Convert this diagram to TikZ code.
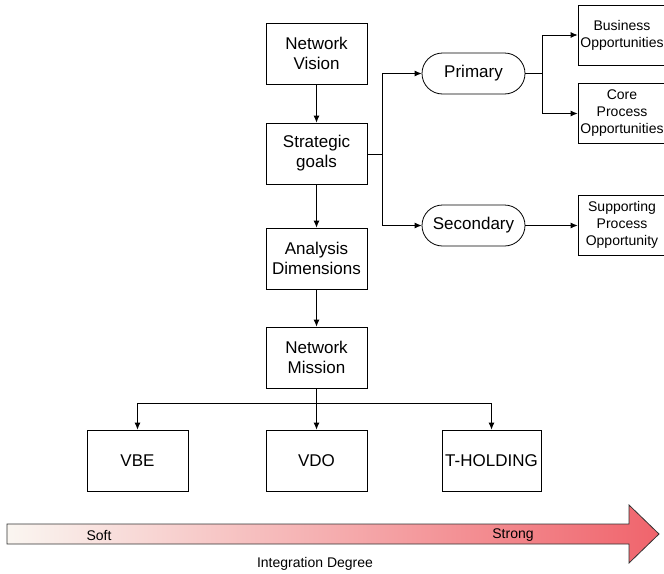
\documentclass[tikz,border=0pt]{standalone}
\usepackage{fontspec}
\setmainfont{Liberation Sans}
\usetikzlibrary{arrows.meta,shapes.misc}
\definecolor{softc}{RGB}{250,246,241}
\definecolor{strongc}{RGB}{240,100,108}
\begin{document}
\begin{tikzpicture}[x=1pt,y=-1pt,
  mainbox/.style={draw,line width=0.8pt,minimum width=101pt,minimum height=61pt,align=center,inner sep=1pt,font=\fontsize{17}{20}\selectfont},
  sidebox/.style={draw,line width=0.8pt,minimum width=88pt,minimum height=60pt,align=center,inner sep=0pt,font=\fontsize{14}{17}\selectfont},
  pill/.style={draw,line width=0.8pt,rounded rectangle,minimum width=105pt,minimum height=41pt,inner sep=1pt,font=\fontsize{17}{20}\selectfont},
  conn/.style={line width=0.8pt},
  arr/.style={line width=0.8pt,-{Latex[length=7pt,width=6pt]}},
  lbl/.style={font=\fontsize{14}{17}\selectfont,inner sep=0pt}]
\useasboundingbox (0,0) rectangle (664,573);
\node[mainbox] (nv) at (316.5,53.5) {Network\\Vision};
\node[mainbox] (sg) at (316.5,153.5) {Strategic\\goals};
\node[mainbox] (ad) at (316.5,258.5) {Analysis\\Dimensions};
\node[mainbox] (nm) at (316.5,357.5) {Network\\Mission};
\node[mainbox] (vbe) at (137.5,460.5) {VBE};
\node[mainbox] (vdo) at (316.5,460.5) {VDO};
\node[mainbox,minimum width=99pt] (th) at (491.5,460.5) {T-HOLDING};
\node[pill] (pri) at (473.5,73.5) {Primary};
\node[pill] (sec) at (473.5,225.5) {Secondary};
\node[sidebox] (bo) at (622,35) {Business\\Opportunities};
\node[sidebox] (cpo) at (622,113.5) {Core\\Process\\Opportunities};
\node[sidebox] (spo) at (622,225) {Supporting\\Process\\Opportunity};
\coordinate (j1) at (382,154);
\coordinate (j2) at (542,73.5);
\coordinate (j3) at (316.5,403);
\draw[arr] (nv) -- (sg);
\draw[arr] (sg) -- (ad);
\draw[arr] (ad) -- (nm);
\draw[conn] (nm.south) -- (j3);
\draw[arr] (j3) -| (vbe.north);
\draw[arr] (j3) -- (vdo.north);
\draw[arr] (j3) -| (th.north);
\draw[conn] (sg.east |- j1) -- (j1);
\draw[arr] (j1) |- (pri.west);
\draw[arr] (j1) |- (sec.west);
\draw[conn] (pri.east) -- (j2);
\draw[arr] (j2) |- (bo.west);
\draw[arr] (j2) |- (cpo.west);
\draw[arr] (sec.east) -- (spo.west |- sec.east);
\path[draw=black!80,line width=0.8pt,left color=softc,right color=strongc]
  (7,524) -- (629,524) -- (629,505) -- (659,534) -- (629,563) -- (629,544) -- (7,544) -- cycle;
\node[lbl] (soft) at (99,535) {Soft};
\node[lbl] (strong) at (513,535) {Strong};
\node[lbl] (deg) at (315,564) {Integration Degree};
\end{tikzpicture}
\end{document}
